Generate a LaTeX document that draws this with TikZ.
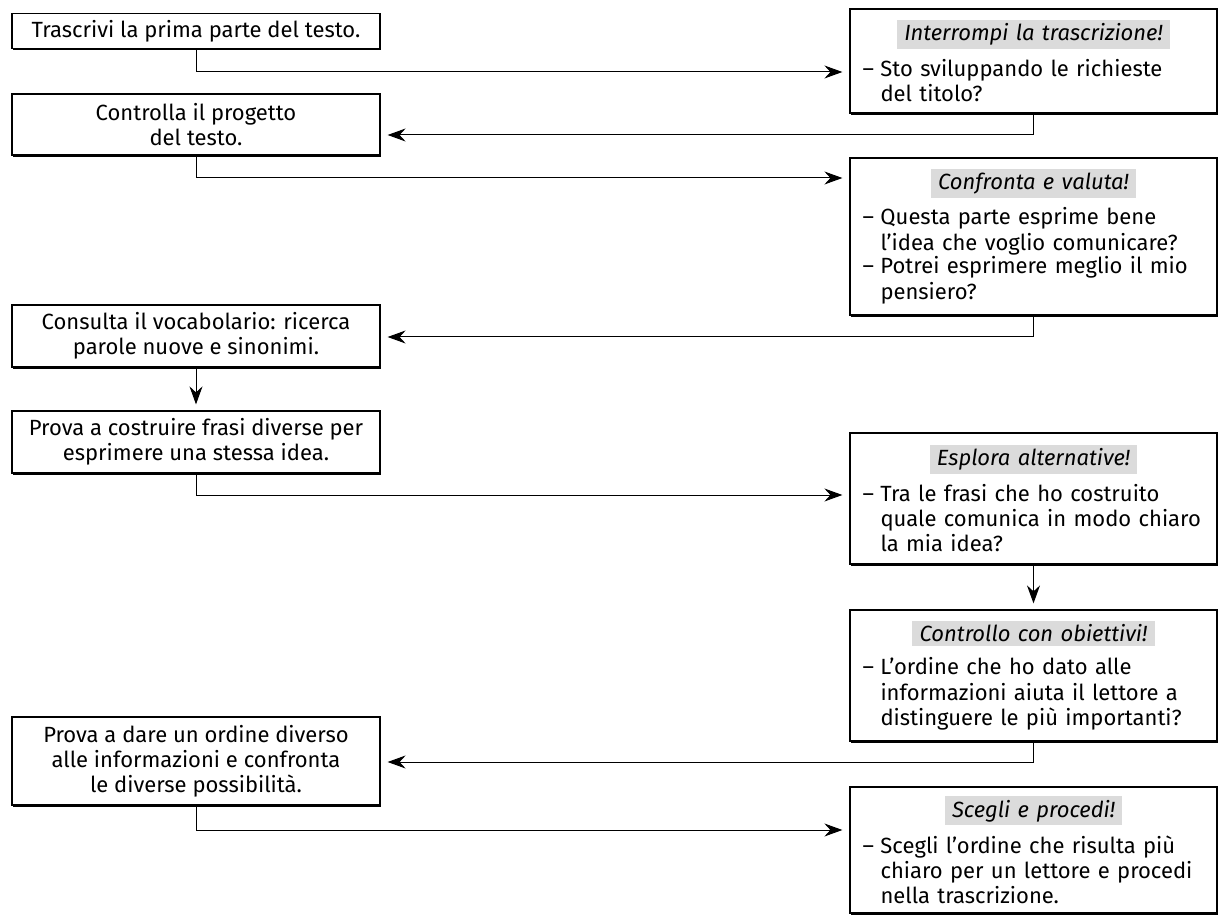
\documentclass[tikz,border=0pt]{standalone}
\usepackage{fontspec}
\setmainfont{Fira Sans}
\usepackage{xcolor}
\usepackage{tikz}
\usetikzlibrary{positioning}
\usetikzlibrary{calc}
\usetikzlibrary{arrows.meta}
\usetikzlibrary{shadows}

\definecolor{headgray}{gray}{0.86}
\newcommand{\boxtitle}[1]{{\centering\setlength{\fboxsep}{1.8pt}\colorbox{headgray}{\,\itshape #1\,}\par}\vspace{4pt}}
\newcommand{\qitem}[1]{\par\noindent\makebox[9pt][l]{–}\parbox[t]{162pt}{\raggedright\fontsize{11pt}{12.6pt}\selectfont #1}\par}

\tikzset{
  stepbox/.style={draw, fill=white, line width=0.6pt, minimum width=184pt, align=center,
    drop shadow={shadow xshift=0.6pt, shadow yshift=-0.9pt, fill=black, opacity=1}},
  checkbox/.style={draw, fill=white, line width=0.6pt, minimum width=183.5pt, text width=171pt,
    inner xsep=5pt, align=left,
    drop shadow={shadow xshift=0.6pt, shadow yshift=-0.9pt, fill=black, opacity=1}},
  flow/.style={line width=0.5pt, -{Stealth[length=9pt,width=6.5pt,inset=3pt]}, shorten >=3.5pt}
}

\begin{document}
\begin{tikzpicture}[x=0.5pt, y=-0.5pt, font=\fontsize{11pt}{12.6pt}\selectfont]
\useasboundingbox (0,0) rectangle (1223,915);

\node[stepbox, minimum height=17pt] (s1) at (196,31) {Trascrivi la prima parte del testo.};
\node[stepbox, minimum height=30.5pt] (s2) at (196,124.5) {Controlla il progetto\\del testo.};
\node[stepbox, minimum height=31pt] (s3) at (196,336) {Consulta il vocabolario: ricerca\\parole nuove e sinonimi.};
\node[stepbox, minimum height=31pt] (s4) at (196,442) {Prova a costruire frasi diverse per\\esprimere una stessa idea.};
\node[stepbox, minimum height=44pt] (s5) at (196,761) {Prova a dare un ordine diverso\\alle informazioni e confronta\\le diverse possibilità.};

\node[checkbox, minimum height=52pt] (q1) at (1033.5,61) {\boxtitle{Interrompi la trascrizione!}%
  \qitem{Sto sviluppando le richieste\\del titolo?}};
\node[checkbox, minimum height=78.5pt] (q2) at (1033.5,236.5) {\boxtitle{Confronta e valuta!}%
  \qitem{Questa parte esprime bene\\l’idea che voglio comunicare?}%
  \qitem{Potrei esprimere meglio il mio\\pensiero?}};
\node[checkbox, minimum height=65.5pt] (q3) at (1033.5,498.5) {\boxtitle{Esplora alternative!}%
  \qitem{Tra le frasi che ho costruito\\quale comunica in modo chiaro\\la mia idea?}};
\node[checkbox, minimum height=65.5pt] (q4) at (1033.5,675.5) {\boxtitle{Controllo con obiettivi!}%
  \qitem{L’ordine che ho dato alle\\informazioni aiuta il lettore a\\distinguere le più importanti?}};
\node[checkbox, minimum height=63pt] (q5) at (1033.5,850) {\boxtitle{Scegli e procedi!}%
  \qitem{Scegli l’ordine che risulta più\\chiaro per un lettore e procedi\\nella trascrizione.}};

% elbow heights
\coordinate (aux1) at (0,72);
\coordinate (aux2) at (0,135);
\coordinate (aux3) at (0,178);
\coordinate (aux4) at (0,337);
\coordinate (aux5) at (0,495);
\coordinate (aux6) at (0,762);
\coordinate (aux7) at (0,830);

\draw[flow] (s1.south) |- (q1.west |- aux1);
\draw[flow] (q1.south) |- (s2.east |- aux2);
\draw[flow] (s2.south) |- (q2.west |- aux3);
\draw[flow] (q2.south) |- (s3.east |- aux4);
\draw[flow, shorten >=3pt] (s3.south) -- (s4.north);
\draw[flow] (s4.south) |- (q3.west |- aux5);
\draw[flow, shorten >=3pt] (q3.south) -- (q4.north);
\draw[flow] (q4.south) |- (s5.east |- aux6);
\draw[flow] (s5.south) |- (q5.west |- aux7);
\end{tikzpicture}
\end{document}
